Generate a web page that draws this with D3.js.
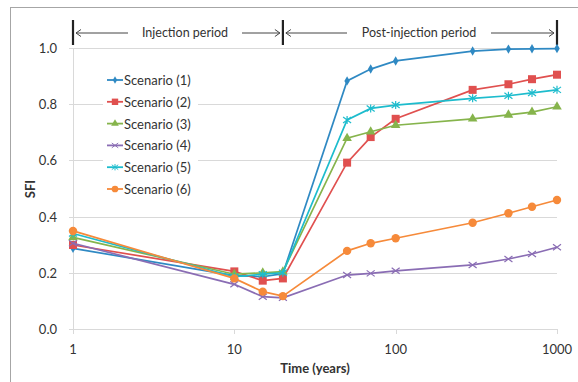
<!DOCTYPE html>
<html>
<head>
<meta charset="utf-8">
<script src="https://cdn.jsdelivr.net/npm/d3@7"></script>
<style>
  body { margin: 0; background: #fff; }
  text { font-family: Lato, "Open Sans", sans-serif; fill: #333; }
</style>
</head>
<body>
<div id="chart"></div>
<script>
// Data
var years = [1, 10, 15, 20, 50, 70, 100, 300, 500, 700, 1000];
var scenarioNames = ["Scenario (1)", "Scenario (2)", "Scenario (3)", "Scenario (4)", "Scenario (5)", "Scenario (6)"];
var sfi1 = [0.287, 0.190, 0.186, 0.197, 0.883, 0.925, 0.954, 0.989, 0.996, 0.997, 0.998];
var sfi2 = [0.299, 0.205, 0.172, 0.180, 0.592, 0.683, 0.748, 0.851, 0.871, 0.889, 0.905];
var sfi3 = [0.326, 0.195, 0.200, 0.204, 0.679, 0.702, 0.725, 0.748, 0.762, 0.772, 0.791];
var sfi4 = [0.305, 0.159, 0.115, 0.111, 0.192, 0.198, 0.207, 0.228, 0.249, 0.267, 0.291];
var sfi5 = [0.340, 0.186, 0.195, 0.200, 0.744, 0.785, 0.797, 0.821, 0.830, 0.840, 0.851];
var sfi6 = [0.349, 0.180, 0.133, 0.117, 0.278, 0.305, 0.323, 0.378, 0.412, 0.435, 0.459];
var xTicks = [1, 10, 100, 1000];
var yTicks = [0, 0.2, 0.4, 0.6, 0.8, 1.0];
var periods = [
    {label: "Injection period", from: 1, to: 20},
    {label: "Post-injection period", from: 20, to: 1000}
];

var allSeries = [sfi1, sfi2, sfi3, sfi4, sfi5, sfi6];
var colors = ["#2f89c3", "#e0504f", "#86b44c", "#8a6db4", "#1dbccd", "#f68a3a"];
var shapes = ["diamond", "square", "triangle", "x", "asterisk", "circle"];

var svgWidth = 578;
var svgHeight = 382;

var svg = d3.select("#chart")
    .append("svg")
        .attr("width", svgWidth)
        .attr("height", svgHeight);

// outer frame (only top and left edges visible)
svg.append("rect")
    .attr("x", 10.5).attr("y", 7.5)
    .attr("width", 700).attr("height", 500)
    .attr("fill", "none")
    .attr("stroke", "#a6a6a6");

var x = d3.scaleLog().domain([1, 1000]).range([73, 557]);
var y = d3.scaleLinear().domain([0, 1]).range([329, 48]);

// horizontal gridlines
svg.append("g").selectAll("line")
    .data(yTicks)
    .enter().append("line")
        .attr("x1", 69).attr("x2", 557)
        .attr("y1", d => Math.round(y(d)) + 0.5)
        .attr("y2", d => Math.round(y(d)) + 0.5)
        .attr("stroke", "#d9d9d9");

// y axis line
svg.append("line")
    .attr("x1", 73.5).attr("x2", 73.5)
    .attr("y1", y(1)).attr("y2", y(0))
    .attr("stroke", "#d9d9d9");

// x tick marks
svg.append("g").selectAll("line")
    .data(xTicks)
    .enter().append("line")
        .attr("x1", d => Math.round(x(d)) + 0.5)
        .attr("x2", d => Math.round(x(d)) + 0.5)
        .attr("y1", 329).attr("y2", 334)
        .attr("stroke", "#d9d9d9");

// tick labels
svg.append("g").selectAll("text")
    .data(yTicks)
    .enter().append("text")
        .attr("x", 57)
        .attr("y", d => y(d) + 5)
        .attr("text-anchor", "end")
        .style("font-size", "13px")
        .text(d => d3.format(".1f")(d));

svg.append("g").selectAll("text")
    .data(xTicks)
    .enter().append("text")
        .attr("x", d => x(d))
        .attr("y", 354)
        .attr("text-anchor", "middle")
        .style("font-size", "13px")
        .text(d => d);

// axis titles
svg.append("text")
    .attr("x", 315)
    .attr("y", 373)
    .attr("text-anchor", "middle")
    .style("font-size", "13px")
    .style("font-weight", "bold")
    .text("Time (years)");

svg.append("text")
    .attr("transform", "translate(35,189) rotate(-90)")
    .attr("text-anchor", "middle")
    .style("font-size", "13px")
    .style("font-weight", "bold")
    .text("SFI");

// period markers at the top
var bars = [1, 20, 1000];
svg.append("g").selectAll("line")
    .data(bars)
    .enter().append("line")
        .attr("x1", d => x(d)).attr("x2", d => x(d))
        .attr("y1", 20).attr("y2", 45)
        .attr("stroke", "#222")
        .attr("stroke-width", 2.2);

function arrow(x1, x2, yy) {
    var dir = x2 > x1 ? -1 : 1;
    svg.append("line")
        .attr("x1", x1).attr("x2", x2)
        .attr("y1", yy).attr("y2", yy)
        .attr("stroke", "#444").attr("stroke-width", 1);
    svg.append("path")
        .attr("d", "M" + (x2 + dir * 5) + "," + (yy - 3.5) + "L" + x2 + "," + yy + "L" + (x2 + dir * 5) + "," + (yy + 3.5))
        .attr("fill", "none")
        .attr("stroke", "#444").attr("stroke-width", 1);
}

// label centre offset and half gap around each label
var periodLayout = [[185, 57], [419, 72]];
periods.forEach(function(p, i) {
    var a = x(p.from) + 3, b = x(p.to) - 3;
    var mid = periodLayout[i][0];
    var half = periodLayout[i][1];
    arrow(mid - half, a, 33);
    arrow(mid + half, b, 33);
    svg.append("text")
        .attr("x", mid)
        .attr("y", 37)
        .attr("text-anchor", "middle")
        .style("font-size", "12.5px")
        .text(p.label);
});

// marker drawing
function drawMarker(g, shape, color) {
    if (shape === "diamond") {
        g.append("path").attr("d", d3.symbol(d3.symbolDiamond, 26)()).attr("fill", color);
    } else if (shape === "square") {
        g.append("rect").attr("x", -4).attr("y", -4).attr("width", 8).attr("height", 8).attr("fill", color);
    } else if (shape === "triangle") {
        g.append("path").attr("d", d3.symbol(d3.symbolTriangle, 40)()).attr("fill", color);
    } else if (shape === "x") {
        g.append("path").attr("d", "M-4,-3L4,3M-4,3L4,-3").attr("stroke", color).attr("stroke-width", 1.2);
    } else if (shape === "asterisk") {
        g.append("path").attr("d", "M-4,-3L4,3M-4,3L4,-3M0,-4L0,4").attr("stroke", color).attr("stroke-width", 1.2);
    } else {
        g.append("circle").attr("r", 4.2).attr("fill", color);
    }
}

var line = d3.line()
    .x((d, i) => x(years[i]))
    .y(d => y(d));

allSeries.forEach(function(vals, k) {
    svg.append("path")
        .datum(vals)
        .attr("fill", "none")
        .attr("stroke", colors[k])
        .attr("stroke-width", 1.7)
        .attr("d", line);

    svg.append("g").selectAll("g")
        .data(vals)
        .enter().append("g")
            .attr("transform", (d, i) => "translate(" + x(years[i]) + "," + y(d) + ")")
            .each(function() { drawMarker(d3.select(this), shapes[k], colors[k]); });
});

// legend
var legend = svg.append("g");
legend.append("rect")
    .attr("x", 103).attr("y", 68)
    .attr("width", 95).attr("height", 132)
    .attr("fill", "#fff");

scenarioNames.forEach(function(name, k) {
    var ly = 80 + k * 21.8;
    legend.append("line")
        .attr("x1", 107).attr("x2", 123)
        .attr("y1", ly).attr("y2", ly)
        .attr("stroke", colors[k]).attr("stroke-width", 1.8);
    var m = legend.append("g").attr("transform", "translate(115," + ly + ") scale(0.8)");
    drawMarker(m, shapes[k], colors[k]);
    legend.append("text")
        .attr("x", 124)
        .attr("y", ly + 5)
        .style("font-size", "13px")
        .text(name);
});
</script>
</body>
</html>
